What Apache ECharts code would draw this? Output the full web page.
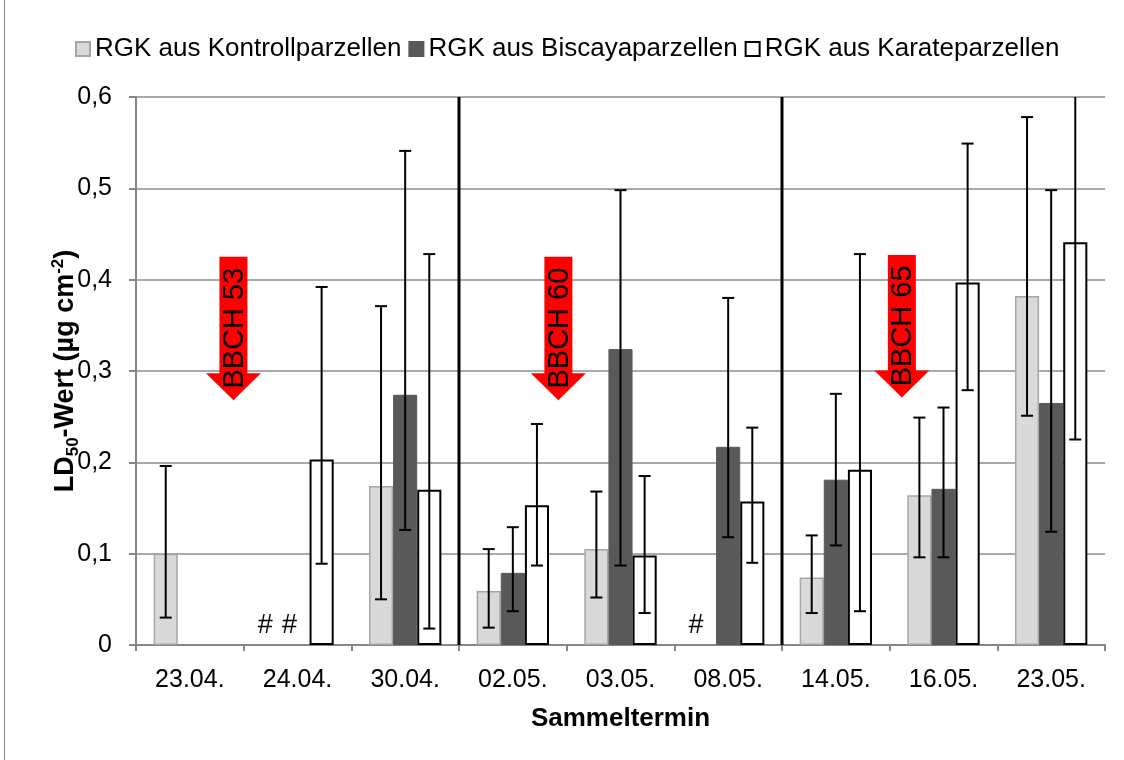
<!DOCTYPE html>
<html>
<head>
<meta charset="utf-8">
<script src="https://cdn.jsdelivr.net/npm/echarts@6/dist/echarts.min.js"></script>
<style>
  html, body { margin: 0; padding: 0; background: #fff; }
  #chart { width: 1124px; height: 760px; }
</style>
</head>
<body>
<div id="chart"></div>
<script>
// Sampling dates
const categories = ['23.04.', '24.04.', '30.04.', '02.05.', '03.05.', '08.05.', '14.05.', '16.05.', '23.05.'];

// LD50 values (µg cm-2) with lower / upper confidence limits
const kontroll     = [0.100, null, 0.174, 0.059, 0.105, null, 0.074, 0.164, 0.382];
const kontrollLow  = [0.030, null, 0.050, 0.019, 0.052, null, 0.035, 0.096, 0.251];
const kontrollHigh = [0.196, null, 0.371, 0.105, 0.168, null, 0.120, 0.249, 0.578];

const biscaya      = [null, null, 0.274, 0.079, 0.324, 0.217, 0.181, 0.171, 0.265];
const biscayaLow   = [null, null, 0.126, 0.037, 0.087, 0.118, 0.109, 0.096, 0.124];
const biscayaHigh  = [null, null, 0.541, 0.129, 0.498, 0.380, 0.275, 0.260, 0.498];

const karate       = [null, 0.203, 0.170, 0.153, 0.098, 0.157, 0.192, 0.397, 0.441];
const karateLow    = [null, 0.089, 0.018, 0.087, 0.035, 0.090, 0.037, 0.279, 0.225];
const karateHigh   = [null, 0.392, 0.428, 0.242, 0.185, 0.238, 0.428, 0.549, 0.660];

// Series names
const seriesNames = ['RGK aus Kontrollparzellen', 'RGK aus Biscayaparzellen', 'RGK aus Karateparzellen'];

// Samples without a determined value: [category index, series index]
const notDetermined = [[1, 0], [1, 1], [5, 0]];

// First category of each new spray phase (thick separators)
const phaseStarts = [3, 6];

// Growth stage markers: label, position in category widths from the left edge, arrow top, arrow tip
const bbchLabels = ['BBCH 53', 'BBCH 60', 'BBCH 65'];
const bbchPos    = [0.905, 3.923, 7.113];
const bbchTop    = [0.425, 0.425, 0.427];
const bbchTip    = [0.268, 0.268, 0.271];

// Y axis ticks
const yMin = 0, yMax = 0.6, yStep = 0.1;

const FONT = '"Liberation Sans", Arial, sans-serif';
const BAR_FRACTION = 0.224;

const chart = echarts.init(document.getElementById('chart'), null, { renderer: 'canvas' });

function bandWidth(api) { return api.size([1, 0])[0]; }

function errorSeries(k, low, high) {
  const data = [];
  low.forEach((l, i) => { if (l != null) data.push([i, l, high[i]]); });
  return {
    type: 'custom',
    silent: true,
    clip: true,
    z: 5,
    data: data,
    encode: { x: 0, y: [1, 2] },
    renderItem(params, api) {
      const w = bandWidth(api) * BAR_FRACTION;
      const lo = api.coord([api.value(0), api.value(1)]);
      const hi = api.coord([api.value(0), api.value(2)]);
      const x = lo[0] + (k - 1) * w;
      const cap = 6;
      const style = { stroke: '#000', lineWidth: 2 };
      return {
        type: 'group',
        children: [
          { type: 'line', shape: { x1: x, y1: lo[1], x2: x, y2: hi[1] }, style },
          { type: 'line', shape: { x1: x - cap, y1: lo[1], x2: x + cap, y2: lo[1] }, style },
          { type: 'line', shape: { x1: x - cap, y1: hi[1], x2: x + cap, y2: hi[1] }, style }
        ]
      };
    }
  };
}

const barBase = { type: 'bar', barWidth: (BAR_FRACTION * 100) + '%', barGap: '0%' };

const option = {
  animation: false,
  backgroundColor: '#fff',
  textStyle: { fontFamily: FONT },
  grid: { left: 136, right: 19, top: 97, bottom: 115, containLabel: false },
  legend: {
    data: seriesNames,
    left: 70,
    top: 31,
    itemWidth: 14,
    itemHeight: 14,
    itemGap: 7,
    icon: 'rect',
    textStyle: { fontSize: 26, color: '#000', fontFamily: FONT }
  },
  xAxis: {
    type: 'category',
    data: categories,
    name: 'Sammeltermin',
    nameLocation: 'middle',
    nameGap: 61,
    nameTextStyle: { fontSize: 26, fontWeight: 'bold', color: '#000', fontFamily: FONT },
    axisLine: { lineStyle: { color: '#868686', width: 2 } },
    axisTick: { show: true, length: 6, lineStyle: { color: '#868686', width: 2 } },
    axisLabel: { fontSize: 25, color: '#000', margin: 23, fontFamily: FONT },
    splitLine: { show: false }
  },
  yAxis: {
    type: 'value',
    min: yMin,
    max: yMax,
    interval: yStep,
    name: '{b|LD}{s|50}{b|-Wert (µg cm}{p|-2}{b|)}',
    nameLocation: 'middle',
    nameRotate: 90,
    nameGap: 54,
    nameMoveOverlap: false,
    nameTextStyle: {
      rich: {
        b: { fontSize: 27, fontWeight: 'bold', color: '#000', fontFamily: FONT, lineHeight: 32 },
        s: { fontSize: 17, fontWeight: 'bold', color: '#000', fontFamily: FONT, verticalAlign: 'bottom', lineHeight: 32 },
        p: { fontSize: 17, fontWeight: 'bold', color: '#000', fontFamily: FONT, verticalAlign: 'top', lineHeight: 32 }
      }
    },
    axisLine: { show: true, lineStyle: { color: '#868686', width: 2 } },
    axisTick: { show: true, length: 7, lineStyle: { color: '#868686', width: 2 } },
    axisLabel: {
      fontSize: 25, color: '#000', margin: 24, fontFamily: FONT,
      formatter: v => (v === 0 ? '0' : v.toFixed(1).replace('.', ','))
    },
    splitLine: { show: true, lineStyle: { color: '#8c8c8c', width: 1.5 } }
  },
  series: [
    Object.assign({}, barBase, {
      name: seriesNames[0], data: kontroll,
      itemStyle: { color: '#d9d9d9', borderColor: '#a6a6a6', borderWidth: 1.5 }
    }),
    Object.assign({}, barBase, {
      name: seriesNames[1], data: biscaya,
      itemStyle: { color: '#595959', borderColor: '#595959', borderWidth: 1 }
    }),
    Object.assign({}, barBase, {
      name: seriesNames[2], data: karate,
      itemStyle: { color: '#ffffff', borderColor: '#000000', borderWidth: 2 }
    }),
    errorSeries(0, kontrollLow, kontrollHigh),
    errorSeries(1, biscayaLow, biscayaHigh),
    errorSeries(2, karateLow, karateHigh),
    {
      // missing-value markers
      type: 'custom', silent: true, z: 6,
      data: notDetermined,
      encode: { x: 0 },
      renderItem(params, api) {
        const w = bandWidth(api) * BAR_FRACTION;
        const p = api.coord([api.value(0), 0]);
        return {
          type: 'text',
          x: p[0] + (api.value(1) - 1) * w - 8,
          y: p[1] - 19,
          style: { text: '#', fontSize: 27, fontFamily: FONT, fill: '#000', align: 'center', verticalAlign: 'middle' }
        };
      }
    },
    {
      // phase separators
      type: 'custom', silent: true, z: 7,
      data: phaseStarts.map(i => [i]),
      encode: { x: 0 },
      renderItem(params, api) {
        const band = bandWidth(api);
        const b = api.coord([api.value(0), yMin]);
        const t = api.coord([api.value(0), yMax]);
        const x = b[0] - band / 2;
        return { type: 'line', shape: { x1: x, y1: b[1], x2: x, y2: t[1] }, style: { stroke: '#000', lineWidth: 3 } };
      }
    },
    {
      // growth stage arrows
      type: 'custom', silent: true, z: 8,
      data: bbchLabels.map((l, i) => [i, bbchPos[i], bbchTop[i], bbchTip[i]]),
      encode: { x: 1, y: [2, 3] },
      renderItem(params, api) {
        const idx = api.value(0);
        const band = bandWidth(api);
        const left = api.coord([0, 0])[0] - band / 2;
        const cx = left + bbchPos[idx] * band;
        const yTop = api.coord([0, bbchTop[idx]])[1];
        const yTip = api.coord([0, bbchTip[idx]])[1];
        const headH = 27, shaft = 14, head = 27.5;
        const yHead = yTip - headH;
        return {
          type: 'group',
          children: [
            {
              type: 'polygon',
              shape: { points: [
                [cx - shaft, yTop], [cx + shaft, yTop], [cx + shaft, yHead], [cx + head, yHead],
                [cx, yTip], [cx - head, yHead], [cx - shaft, yHead]
              ] },
              style: { fill: '#ff0000' }
            },
            {
              type: 'text',
              x: cx + 1.5,
              y: yTop + (yTip - yTop) * 0.497,
              rotation: Math.PI / 2,
              style: { text: bbchLabels[idx], fontSize: 29, fontFamily: FONT, fill: '#000', align: 'center', verticalAlign: 'middle' }
            }
          ]
        };
      }
    }
  ],
  graphic: [
    { type: 'line', shape: { x1: 4.5, y1: 0, x2: 4.5, y2: 760 }, style: { stroke: '#8c8c8c', lineWidth: 1 }, silent: true }
  ]
};

chart.setOption(option);
</script>
</body>
</html>
